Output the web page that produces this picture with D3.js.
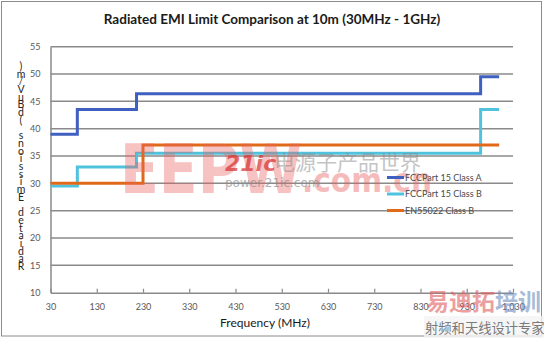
<!DOCTYPE html>
<html>
<head>
<meta charset="utf-8">
<script src="https://cdn.jsdelivr.net/npm/d3@7"></script>
<style>
  body { margin: 0; background: #fff; }
  svg { display: block; }
</style>
</head>
<body>
<div id="chart"></div>
<script>
// chart values
const freqTicks = [30, 130, 230, 330, 430, 530, 630, 730, 830, 930, 1030];
const levelTicks = [10, 15, 20, 25, 30, 35, 40, 45, 50, 55];
const seriesNames = ["FCCPart 15 Class A", "FCCPart 15 Class B", "EN55022 Class B"];
const fccFreq = [30, 88, 216, 960, 1000];
const fccALevel = [39, 43.5, 46.4, 49.5, 49.5];
const fccBLevel = [29.5, 33, 35.5, 43.5, 43.5];
const enFreq = [30, 230, 1000];
const enBLevel = [30, 37, 37];

const width = 544, height = 338;
const colors = ["#3f60c0", "#4fc3de", "#e06a1a"];

const svg = d3.select("#chart").append("svg")
    .attr("width", width)
    .attr("height", height)
    .style("font-family", "Lato, 'Open Sans', sans-serif");

svg.append("rect")
    .attr("x", 1.5).attr("y", 1.5)
    .attr("width", 540).attr("height", 334.5)
    .attr("fill", "#fff")
    .attr("stroke", "#8c8c8c");

const x = d3.scaleLinear().domain([30, 1030]).range([50.5, 513]);
const y = d3.scaleLinear().domain([10, 55]).range([292.7, 46.7]);

// grid lines
svg.append("g")
    .selectAll("line")
    .data(levelTicks.slice(1))
    .join("line")
    .attr("x1", x(30)).attr("x2", x(1030))
    .attr("y1", d => y(d)).attr("y2", d => y(d))
    .attr("stroke", "#8a8a8a")
    .attr("stroke-width", 1.5);

// y axis
const yAxis = svg.append("g")
    .attr("transform", `translate(${x(30)},0)`)
    .call(d3.axisLeft(y).tickValues(levelTicks).tickSize(0).tickPadding(10));
yAxis.select(".domain").attr("stroke", "#8a8a8a").attr("stroke-width", 1.5);
yAxis.selectAll("text")
    .style("font-family", "Lato, sans-serif")
    .style("font-size", "9px")
    .attr("fill", "#595959");

// x axis
const xAxis = svg.append("g")
    .attr("transform", `translate(0,${y(10)})`)
    .call(d3.axisBottom(x).tickValues(freqTicks).tickSizeInner(-4).tickSizeOuter(0).tickPadding(11));
xAxis.select(".domain").attr("stroke", "#8a8a8a").attr("stroke-width", 1.5);
xAxis.selectAll(".tick line").attr("stroke", "#8a8a8a").attr("stroke-width", 1.2);
xAxis.selectAll("text")
    .style("font-family", "Lato, sans-serif")
    .style("font-size", "9px")
    .attr("fill", "#595959");

// step lines
const line = d3.line()
    .x(d => x(d[0]))
    .y(d => y(d[1]))
    .curve(d3.curveStepAfter);

const series = [
    d3.zip(fccFreq, fccALevel),
    d3.zip(fccFreq, fccBLevel),
    d3.zip(enFreq, enBLevel)
];

svg.append("g")
    .selectAll("path")
    .data(series)
    .join("path")
    .attr("d", line)
    .attr("fill", "none")
    .attr("stroke", (d, i) => colors[i])
    .attr("stroke-width", 3);

// watermark over the plot
const wm = svg.append("g");
wm.append("text")
    .attr("x", 120).attr("y", 193)
    .attr("textLength", 182).attr("lengthAdjust", "spacingAndGlyphs")
    .style("font-family", "'DejaVu Sans'")
    .style("font-weight", "bold")
    .style("font-size", "68px")
    .attr("fill", "#e86060").attr("opacity", 0.38)
    .text("EEPW");
wm.append("text")
    .attr("x", 302).attr("y", 192)
    .attr("textLength", 130).attr("lengthAdjust", "spacingAndGlyphs")
    .style("font-family", "'DejaVu Sans'")
    .style("font-weight", "bold")
    .style("font-size", "34px")
    .attr("fill", "#e86060").attr("opacity", 0.42)
    .text(".com.cn");
wm.append("text")
    .attr("x", 225).attr("y", 171)
    .style("font-family", "'DejaVu Sans'")
    .style("font-weight", "bold")
    .style("font-style", "italic")
    .style("font-size", "22px")
    .attr("fill", "#d83030").attr("opacity", 0.7)
    .text("21ic");
wm.append("text")
    .attr("x", 274).attr("y", 170)
    .style("font-family", "'Noto Sans CJK SC'")
    .style("font-size", "21px")
    .attr("fill", "#8a8a8a").attr("opacity", 0.5)
    .text("电源子产品世界");
wm.append("text")
    .attr("x", 225).attr("y", 187)
    .style("font-family", "'DejaVu Sans'")
    .style("font-size", "12px")
    .attr("fill", "#8a8a8a").attr("opacity", 0.65)
    .text("power.21ic.com");

// legend
const legend = svg.append("g")
    .selectAll("g")
    .data(seriesNames)
    .join("g")
    .attr("transform", (d, i) => `translate(387,${177.5 + i * 16.5})`);
legend.append("line")
    .attr("x1", 0).attr("x2", 17)
    .attr("stroke", (d, i) => colors[i])
    .attr("stroke-width", 3);
legend.append("text")
    .attr("x", 18).attr("dy", "0.35em")
    .style("font-size", "9px")
    .attr("fill", "#4a4a4a")
    .text(d => d);

// title
svg.append("text")
    .attr("x", 272).attr("y", 24)
    .attr("text-anchor", "middle")
    .style("font-size", "13.5px")
    .style("font-weight", "bold")
    .attr("fill", "#1a1a1a")
    .text("Radiated EMI Limit Comparison at 10m (30MHz - 1GHz)");

// x axis title
svg.append("text")
    .attr("x", 265).attr("y", 327)
    .attr("text-anchor", "middle")
    .style("font-size", "12px")
    .attr("fill", "#1a1a1a")
    .text("Frequency (MHz)");

// y axis title, stacked characters read bottom to top
const yTitle = Array.from("Radiated Emissions (dBuV/m)");
svg.append("g")
    .selectAll("text")
    .data(yTitle)
    .join("text")
    .attr("x", 21)
    .attr("y", (d, i) => 270 - i * 7.7)
    .attr("text-anchor", "middle")
    .style("font-size", "10.5px")
    .attr("fill", "#262626")
    .text(d => d);

// bottom-right watermark
const wm3 = svg.append("g");
wm3.append("rect")
    .attr("x", 424).attr("y", 316).attr("width", 120).attr("height", 22)
    .attr("fill", "#f4f4f4").attr("opacity", 0.8);
wm3.append("text")
    .attr("x", 426).attr("y", 310)
    .style("font-family", "'Noto Sans CJK SC'")
    .style("font-weight", "bold")
    .style("font-size", "23px")
    .attr("fill", "#e06060").attr("opacity", 0.6)
    .text("易迪拓");
wm3.append("text")
    .attr("x", 495).attr("y", 310)
    .style("font-family", "'Noto Sans CJK SC'")
    .style("font-weight", "bold")
    .style("font-size", "23px")
    .attr("fill", "#6f8fc0").attr("opacity", 0.6)
    .text("培训");
wm3.append("text")
    .attr("x", 425).attr("y", 333)
    .style("font-family", "'Noto Sans CJK SC'")
    .style("font-size", "13.3px")
    .attr("fill", "#7a7a7a")
    .text("射频和天线设计专家");
</script>
</body>
</html>
